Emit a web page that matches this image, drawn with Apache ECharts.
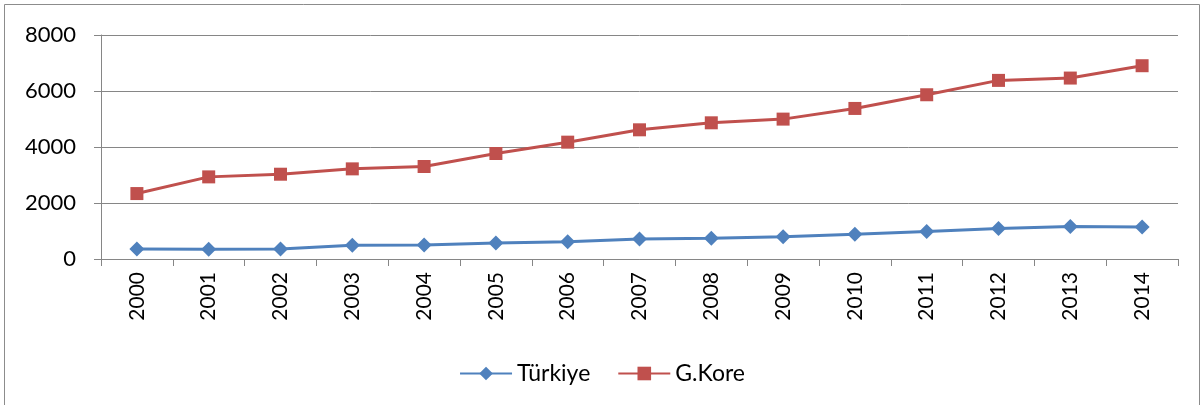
<!DOCTYPE html>
<html>
<head>
<meta charset="utf-8">
<script src="https://cdn.jsdelivr.net/npm/echarts@6/dist/echarts.min.js"></script>
<style>
html,body{margin:0;padding:0;background:#fff;}
#c{width:1204px;height:405px;}
</style>
</head>
<body>
<div id="c"></div>
<script>
const years = ['2000','2001','2002','2003','2004','2005','2006','2007','2008','2009','2010','2011','2012','2013','2014'];
const turkiye = [358, 346, 358, 489, 501, 572, 620, 715, 739, 799, 882, 978, 1085, 1157, 1140];
const gkore = [2337, 2933, 3028, 3219, 3303, 3768, 4173, 4614, 4864, 4996, 5377, 5866, 6379, 6462, 6903];
const yTicks = [0, 2000, 4000, 6000, 8000];

const FONT = 'Lato, "Open Sans", sans-serif';
const chart = echarts.init(document.getElementById('c'), null, {renderer: 'canvas'});
chart.setOption({
  animation: false,
  backgroundColor: '#fff',
  graphic: [{
    type: 'rect',
    shape: {x: 4.5, y: 4.5, width: 1195, height: 410},
    style: {fill: 'none', stroke: '#8c8c8c', lineWidth: 1},
    silent: true
  }],
  grid: {left: 101, right: 26, top: 35, bottom: 146, containLabel: false},
  legend: {
    top: 357,
    left: 'center',
    itemWidth: 52,
    itemHeight: 17,
    itemGap: 27,
    textStyle: {fontFamily: FONT, fontSize: 23, color: '#000'},
    data: ['Türkiye', 'G.Kore']
  },
  xAxis: {
    type: 'category',
    data: years,
    boundaryGap: true,
    axisLine: {lineStyle: {color: '#868686', width: 1}},
    axisTick: {show: true, length: 7, lineStyle: {color: '#868686'}},
    axisLabel: {rotate: 90, margin: 13, fontFamily: FONT, fontSize: 21, color: '#000'}
  },
  yAxis: {
    type: 'value',
    min: yTicks[0],
    max: yTicks[yTicks.length - 1],
    interval: 2000,
    axisLine: {show: true, lineStyle: {color: '#868686', width: 1}},
    axisTick: {show: true, length: 7, lineStyle: {color: '#868686'}},
    axisLabel: {margin: 25, fontFamily: FONT, fontSize: 22, color: '#000',
      formatter: function (v) { return String(v); }},
    splitLine: {show: true, lineStyle: {color: '#868686', width: 1}}
  },
  series: [{
    name: 'Türkiye',
    type: 'line',
    data: turkiye,
    symbol: 'diamond',
    symbolSize: 15,
    lineStyle: {color: '#4F81BD', width: 3},
    itemStyle: {color: '#4F81BD'}
  }, {
    name: 'G.Kore',
    type: 'line',
    data: gkore,
    symbol: 'rect',
    symbolSize: 13,
    lineStyle: {color: '#C0504D', width: 3},
    itemStyle: {color: '#C0504D'}
  }]
});
</script>
</body>
</html>
